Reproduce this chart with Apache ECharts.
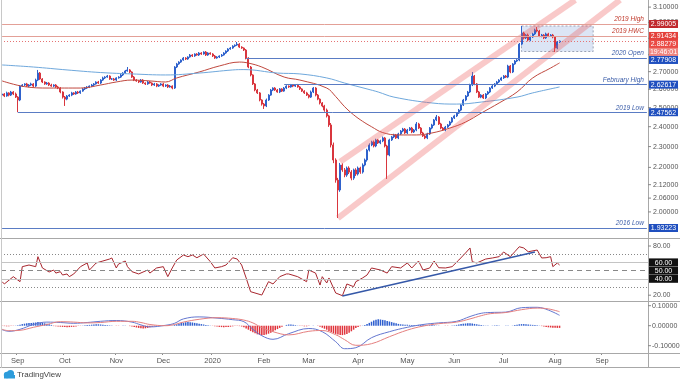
<!DOCTYPE html>
<html><head><meta charset="utf-8">
<script src="https://cdn.jsdelivr.net/npm/echarts@6.0.0/dist/echarts.min.js"></script>
<style>html,body{margin:0;padding:0;background:#fff;}#c{width:680px;height:380px;}</style>
</head><body><div id="c"></div>
<script>
// ================= DATA =================
const firstOpen = 2.568;
const closes = [
2.574,2.563,2.580,2.568,2.585,2.574,2.557,2.541,2.618,2.624,
2.630,2.618,2.624,2.630,2.618,2.652,2.692,2.658,2.641,2.630,
2.635,2.624,2.618,2.624,2.613,2.607,2.585,2.557,2.546,2.563,
2.568,2.580,2.574,2.585,2.580,2.590,2.602,2.607,2.613,2.618,
2.624,2.630,2.641,2.635,2.652,2.664,2.669,2.675,2.658,2.658,
2.652,2.664,2.669,2.681,2.692,2.704,2.710,2.698,2.669,2.652,
2.647,2.641,2.652,2.635,2.630,2.641,2.635,2.624,2.630,2.618,
2.624,2.630,2.618,2.624,2.613,2.618,2.607,2.727,2.745,2.756,
2.768,2.780,2.774,2.786,2.798,2.792,2.804,2.798,2.810,2.804,
2.816,2.798,2.810,2.804,2.792,2.780,2.786,2.792,2.798,2.810,
2.822,2.834,2.840,2.852,2.858,2.864,2.846,2.840,2.828,2.780,
2.727,2.681,2.630,2.596,2.580,2.541,2.519,2.509,2.541,2.568,
2.596,2.607,2.596,2.585,2.602,2.590,2.607,2.618,2.613,2.624,
2.618,2.624,2.613,2.602,2.590,2.580,2.568,2.557,2.585,2.607,
2.568,2.546,2.525,2.509,2.487,2.456,2.409,2.308,2.235,2.141,
2.096,2.211,2.188,2.164,2.197,2.178,2.150,2.188,2.169,2.197,
2.178,2.211,2.235,2.283,2.308,2.323,2.303,2.333,2.318,2.328,
2.343,2.303,2.259,2.333,2.348,2.358,2.343,2.363,2.378,2.388,
2.368,2.383,2.393,2.373,2.383,2.414,2.393,2.368,2.353,2.343,
2.363,2.393,2.409,2.435,2.450,2.414,2.393,2.383,2.398,2.409,
2.424,2.445,2.456,2.471,2.487,2.514,2.541,2.563,2.585,2.624,
2.675,2.630,2.585,2.557,2.568,2.552,2.574,2.585,2.607,2.618,
2.630,2.641,2.652,2.664,2.675,2.669,2.733,2.698,2.745,2.762,
2.768,2.864,2.933,2.902,2.920,2.889,2.908,2.927,2.952,2.945,
2.914,2.920,2.902,2.927,2.914,2.920,2.908,2.840,2.877,2.88279];
// wick lengths beyond the body, in thousandths
const wickUp = [
6,5,7,4,6,5,8,5,6,5, 4,6,5,7,5,8,18,6,5,4, 6,5,7,4,5,6,5,4,6,5, 5,6,4,5,6,4,5,6,5,4,
6,5,4,6,5,7,5,6,4,5, 6,4,5,6,5,6,17,5,4,6, 5,4,6,5,4,6,5,4,6,5, 4,5,6,4,5,6,4,5,6,5,
4,6,5,4,6,5,4,5,6,5, 4,6,5,4,5,6,5,4,6,5, 4,5,6,5,4,13,6,5,4,6, 5,6,4,5,6,5,4,6,8,5,
6,4,5,6,5,4,6,5,4,6, 5,4,6,5,4,5,6,5,8,6, 5,6,4,5,6,8,6,10,12,8, 10,10,8,9,7,8,9,6,8,7,
6,8,7,6,8,6,7,6,5,6, 7,5,6,6,5,6,5,6,5,6, 5,6,5,6,5,10,6,5,6,5, 6,5,6,5,11,5,6,5,6,5,
6,5,6,5,6,5,6,5,6,7, 23,6,5,6,5,6,5,6,5,6, 5,6,5,6,5,6,7,6,5,6, 5,7,44,8,7,9,8,7,8,19,
8,7,6,8,7,6,7,5,6,4];
const wickDn = [
5,6,4,7,5,6,5,65,6,5, 6,5,7,5,6,5,6,5,6,5, 5,6,4,6,5,6,7,8,37,6, 5,6,5,4,6,5,4,6,5,6,
5,6,4,5,6,5,6,4,5,6, 5,6,4,5,6,5,4,6,5,6, 5,6,4,5,6,5,4,6,5,6, 5,4,6,5,6,4,7,5,6,5,
5,4,6,5,4,6,5,4,6,5, 4,6,5,4,6,5,4,6,5,4, 5,6,4,5,6,5,6,5,6,8, 7,8,6,7,6,7,8,16,6,5,
4,6,5,4,6,5,4,6,5,4, 6,5,4,6,5,6,5,7,5,6, 7,6,8,7,9,8,10,12,15,12, 122,8,9,10,8,9,10,8,9,7,
8,7,6,8,7,6,7,6,5,6, 6,7,113,6,5,6,5,6,5,6, 5,6,5,6,5,6,5,6,5,6, 6,5,6,5,6,5,6,5,6,5,
5,6,5,6,5,6,5,6,5,6, 6,7,6,5,6,5,6,5,6,5, 6,5,6,5,6,5,6,7,6,5, 6,7,8,9,7,8,7,6,7,8,
7,8,7,6,7,6,8,24,7,6];
// moving averages [bar index, value]
const maRed = [[0,2.647],[10,2.615],[21,2.607],[35,2.607],[44,2.624],[51,2.641],[58,2.652],[66,2.647],[73,2.641],[78,2.664],[88,2.698],[97,2.733],[106,2.756],[110,2.750],[116,2.727],[126,2.669],[133,2.652],[145,2.607],[149,2.560],[153,2.505],[157,2.462],[161,2.428],[165,2.400],[170,2.370],[177,2.358],[185,2.358],[192,2.368],[200,2.393],[207,2.424],[214,2.471],[222,2.525],[230,2.585],[237,2.664],[245,2.721],[249,2.751]];
const maBlue = [[0,2.739],[14,2.727],[29,2.710],[44,2.695],[58,2.687],[73,2.681],[88,2.692],[103,2.710],[108,2.712],[123,2.692],[133,2.687],[145,2.664],[153,2.635],[163,2.602],[168,2.585],[175,2.557],[192,2.525],[203,2.519],[214,2.530],[230,2.557],[237,2.580],[249,2.613]];
// RSI [bar index, value]
const rsiPts = [[0,36.5],[1,33.7],[5,42.6],[8,36.5],[9,54.8],[12,56.8],[15,54.8],[16,67],[18,53.2],[21,48.3],[23,50.7],[24,47],[26,48.7],[27,44.6],[29,45.9],[30,42.6],[32,45.9],[35,54.8],[38,59.3],[39,50.7],[42,59.3],[45,61.7],[48,64.1],[49,65.4],[51,53.2],[52,58],[55,61.7],[56,54.8],[58,48.7],[61,45.9],[65,50.7],[66,47],[69,53.2],[72,54.8],[74,42.6],[76,53.2],[78,62.9],[81,69],[83,67],[85,69],[87,65.7],[90,70.2],[93,60.9],[95,53.2],[98,54.8],[100,56.8],[103,65.7],[105,64.1],[107,56.8],[109,41],[111,24.3],[116,20.2],[119,36.5],[121,33.7],[124,42.6],[127,45.9],[128,45.9],[132,42.6],[136,36.5],[137,50.7],[140,47],[142,32.4],[143,42.6],[145,34.9],[146,41],[149,22.7],[152,19.4],[154,33.7],[157,30.4],[158,36.5],[161,41],[163,44.6],[165,53.2],[169,50.7],[172,47],[174,54.8],[178,53.2],[181,59.3],[183,53.2],[186,61.7],[188,50.7],[191,53.2],[193,61.7],[195,53.5],[198,53.2],[201,54.8],[204,62.9],[207,71.5],[209,77.6],[210,60.9],[212,59.3],[216,64.1],[219,65.4],[222,67],[224,72.7],[227,67],[229,73],[231,79.1],[233,77.6],[235,73],[239,75.1],[241,65.4],[243,65.7],[245,67],[246,54.8],[248,59.3],[249,56.8]];
// MACD lines [bar index, value]
const macdPts = [[0,-0.020],[3,-0.028],[8,-0.018],[14,0.006],[20,0.018],[26,0.016],[32,0.012],[38,0.016],[44,0.022],[51,0.026],[58,0.018],[62,0.004],[66,-0.006],[73,0.002],[77,0.012],[81,0.034],[88,0.044],[96,0.038],[103,0.030],[108,0.020],[112,-0.018],[116,-0.050],[121,-0.068],[128,-0.040],[137,-0.014],[143,-0.030],[149,-0.080],[153,-0.115],[158,-0.110],[165,-0.060],[173,-0.030],[181,-0.008],[188,0.006],[195,0.014],[203,0.022],[209,0.046],[214,0.062],[218,0.066],[225,0.068],[232,0.090],[239,0.092],[244,0.078],[249,0.052]];
const signalPts = [[0,-0.018],[3,-0.025],[8,-0.023],[14,-0.008],[20,0.006],[26,0.020],[32,0.018],[38,0.014],[44,0.016],[51,0.022],[58,0.022],[62,0.016],[66,0.006],[73,0.000],[77,0.006],[81,0.018],[88,0.032],[96,0.040],[103,0.036],[108,0.028],[112,0.014],[116,-0.010],[121,-0.030],[128,-0.046],[137,-0.028],[143,-0.024],[149,-0.045],[153,-0.070],[158,-0.098],[165,-0.090],[173,-0.055],[181,-0.022],[188,-0.002],[195,0.010],[203,0.018],[209,0.034],[214,0.050],[218,0.060],[225,0.066],[232,0.080],[239,0.088],[244,0.084],[249,0.070]];
// MACD histogram, thousandths, one per bar
const hist = [
-2,-2,-3,-3,-2,-1,
1,2,5,8,10,12,13,14,15,16,18,16,14,12,10,7,4,
-2,-3,-4,-5,-6,-7,-8,-7,-6,-5,-4,-2,-1,
1,2,3,4,5,6,7,7,6,5,4,3,2,
1,0,-1,-1,0,1,1,0,
-2,-4,-6,-9,-11,-13,-14,-13,-11,-8,
-5,-3,-1,0,1,0,-1,-1,0,1,
4,7,10,13,15,17,18,17,16,14,12,10,8,
6,4,2,1,
-1,-3,-4,-6,-7,-8,-7,-6,-5,-3,
-2,-1,-2,-4,
-8,-14,-20,-27,-33,-38,-43,-46,-48,-47,-44,-40,-35,-29,-23,-17,-11,
-5,0,4,6,6,5,3,1,
-1,-2,-3,-3,-2,0,1,0,-2,
-5,-10,-15,-20,-26,-32,-37,-41,-44,-46,-47,-45,-41,-35,-28,-20,
-12,-6,-2,1,4,
8,14,20,26,30,32,31,29,27,24,21,18,15,12,9,7,
6,5,5,4,4,3,3,4,4,3,2,2,3,3,2,1,1,0,
0,-1,-1,0,1,
2,4,6,8,10,11,12,12,11,9,7,5,3,
2,1,1,0,1,2,2,1,0,0,1,1,0,1,
3,5,7,8,8,7,6,5,4,3,2,1,
-2,-4,-6,-8,-9,-10,-10,-11,-11];
// horizontal levels
const levelNames  = ['2019 High','2019 HWC','2020 Open','February High','2019 Low','2016 Low'];
const levelValues = [2.99005, 2.91434, 2.77908, 2.62617, 2.47562, 1.93223];
const levelStart  = [0, 0, 109, 126, 7, 0];
const lastPrice = 2.88279;
const countdown = '19:46:01';
const priceTicks = [3.1, 3.0, 2.9, 2.8, 2.7, 2.6, 2.5, 2.4, 2.3, 2.2, 2.12, 2.06, 2.0];
const rsiTickVals = [80, 20];
const rsiLevelVals = [60, 50, 40];
const macdTicks = [0.1, 0, -0.1];
// drawings
const channelUpper = [[151, 2.227], [256, 3.1475]];
const channelLower = [[150, 1.974], [276, 3.1475]];
const rangeBox = [[232, 2.977], [264, 2.819]];
const rsiTrend = [[152, 19.0], [238, 72.7]];
const monthNames = ['Jan','Feb','Mar','Apr','May','Jun','Jul','Aug','Sep','Oct','Nov','Dec'];

// ================= BUILD =================
const SLOTS = 289;
const dates = [], monthLabel = [];
{
  let t = Date.UTC(2019, 7, 22), prevM = -1;
  while (dates.length < SLOTS) {
    const d = new Date(t); const wd = d.getUTCDay();
    if (wd !== 0 && wd !== 6) {
      const m = d.getUTCMonth();
      dates.push(d.toISOString().slice(0, 10));
      monthLabel.push(prevM !== -1 && m !== prevM ? (m === 0 ? String(d.getUTCFullYear()) : monthNames[m]) : '');
      prevM = m;
    }
    t += 86400000;
  }
}
const candles = closes.map((c, i) => {
  const o = i ? closes[i - 1] : firstOpen;
  return [o, c, Math.min(o, c) - wickDn[i] / 1000, Math.max(o, c) + wickUp[i] / 1000];
});
const histData = hist.map(v => ({ value: v / 1000, itemStyle: { color: v >= 0 ? '#2f5fcf' : '#e0343c' } }));

const FONT = '"Liberation Sans", Arial, sans-serif';
const UP = '#2f62cc', DOWN = '#d9363e';
const redLvl = '#e3a097', blueLvl = '#5a7cc4';
const lvlColor = [redLvl, redLvl, blueLvl, blueLvl, blueLvl, blueLvl];
const lvlText = ['#c0392b', '#c0392b', '#3a5ca8', '#3a5ca8', '#3a5ca8', '#3a5ca8'];

const lvlMarks = levelNames.map((n, k) => {
  const ls = { color: lvlColor[k], width: 1, type: 'solid' };
  const lb = { show: true, position: 'insideEndTop', formatter: n, color: lvlText[k], fontSize: 6.5, fontStyle: 'italic', fontFamily: FONT, distance: [3, 1] };
  return [{ coord: [levelStart[k], levelValues[k]], lineStyle: ls, label: lb }, { coord: [SLOTS - 1, levelValues[k]], lineStyle: ls, label: lb }];
});
const chanStyle = { color: 'rgba(238,90,90,0.33)', width: 6, type: 'solid' };
const chanMarks = [channelUpper, channelLower].map(l => [
  { coord: l[0], lineStyle: chanStyle, label: { show: false } },
  { coord: l[1], lineStyle: chanStyle, label: { show: false } }]);
const lastMark = { yAxis: lastPrice, lineStyle: { color: '#e57373', width: 1, type: [1, 2] }, label: { show: false } };

const chart = echarts.init(document.getElementById('c'), null, { renderer: 'canvas', width: 680, height: 380 });
const xAx = k => ({
  type: 'category', gridIndex: k, data: dates, boundaryGap: true, position: 'bottom',
  axisLine: { show: false, onZero: false }, splitLine: { show: false },
  axisTick: { show: k === 2, interval: i => monthLabel[i] !== '', length: 2, inside: false, lineStyle: { color: '#888' } },
  axisLabel: { show: k === 2, interval: i => monthLabel[i] !== '', formatter: (v, i) => monthLabel[i], color: '#555', fontSize: 7.5, fontFamily: FONT, margin: 4 }
});
chart.setOption({
  animation: false,
  backgroundColor: '#ffffff',
  grid: [
    { left: 1, top: 0, width: 647, height: 238 },
    { left: 1, top: 238, width: 647, height: 63 },
    { left: 1, top: 301, width: 647, height: 52 }
  ],
  xAxis: [xAx(0), xAx(1), xAx(2)],
  yAxis: [
    { type: 'log', logBase: 10, gridIndex: 0, min: 1.8914, max: 3.1475, show: false, splitLine: { show: false } },
    { type: 'value', gridIndex: 1, min: 12.93, max: 89.76, show: false, splitLine: { show: false } },
    { type: 'value', gridIndex: 2, min: -0.1365, max: 0.1235, show: false, splitLine: { show: false } }
  ],
  series: [
    {
      type: 'candlestick', xAxisIndex: 0, yAxisIndex: 0, data: candles, barWidth: 1.5,
      itemStyle: { color: UP, color0: DOWN, borderColor: UP, borderColor0: DOWN, borderWidth: 1 },
      markLine: { silent: true, symbol: 'none', animation: false, data: [...chanMarks, ...lvlMarks, lastMark] },
      markArea: { silent: true, data: [[
        { coord: rangeBox[0], itemStyle: { color: 'rgba(178,198,232,0.45)', borderColor: '#9aa3b5', borderWidth: 1, borderType: [2, 2] } },
        { coord: rangeBox[1] }]] }
    },
    { type: 'line', xAxisIndex: 0, yAxisIndex: 0, data: maRed, smooth: 0.4, showSymbol: false, lineStyle: { color: '#c0483e', width: 1 } },
    { type: 'line', xAxisIndex: 0, yAxisIndex: 0, data: maBlue, smooth: 0.4, showSymbol: false, lineStyle: { color: '#6fa8dc', width: 1 } },
    {
      type: 'line', xAxisIndex: 1, yAxisIndex: 1, data: rsiPts, showSymbol: false, lineStyle: { color: '#a8262e', width: 1 },
      markLine: { silent: true, symbol: 'none', animation: false, label: { show: false }, data: [
        { yAxis: 70, lineStyle: { color: '#888', width: 1, type: [1, 2] } },
        { yAxis: 60, lineStyle: { color: '#c4c4c4', width: 1, type: 'solid' } },
        { yAxis: 50, lineStyle: { color: '#888', width: 1, type: [5, 4] } },
        { yAxis: 40, lineStyle: { color: '#c4c4c4', width: 1, type: 'solid' } },
        { yAxis: 30, lineStyle: { color: '#888', width: 1, type: [1, 2] } },
        [{ coord: rsiTrend[0], lineStyle: { color: '#3558a8', width: 1.6, type: 'solid' } },
         { coord: rsiTrend[1], lineStyle: { color: '#3558a8', width: 1.6, type: 'solid' } }]
      ] }
    },
    { type: 'bar', xAxisIndex: 2, yAxisIndex: 2, data: histData, barWidth: 1.5 },
    { type: 'line', xAxisIndex: 2, yAxisIndex: 2, data: macdPts, smooth: 0.4, showSymbol: false, lineStyle: { color: '#6477d0', width: 1 } },
    { type: 'line', xAxisIndex: 2, yAxisIndex: 2, data: signalPts, smooth: 0.4, showSymbol: false, lineStyle: { color: '#e57f7f', width: 1 } }
  ]
});

// ---------- right-hand scale, boxes and frame (positions from the library's axes) ----------
const toY = (axis, v) => chart.convertToPixel({ yAxisIndex: axis }, v);
const g = [];
const ln = (x1, y1, x2, y2, c, z) => g.push({ type: 'line', silent: true, z: z || 50, shape: { x1, y1, x2, y2 }, style: { stroke: c, lineWidth: 1 } });
const txt = (s, x, y, c, z) => g.push({ type: 'text', silent: true, z: z || 60, style: { text: s, x, y, fill: c, fontSize: 7, fontFamily: FONT, align: 'left', verticalAlign: 'middle' } });
const box = (s, y, bg, z) => {
  g.push({ type: 'rect', silent: true, z: z, shape: { x: 649, y: y - 4, width: 29, height: 8 }, style: { fill: bg } });
  g.push({ type: 'text', silent: true, z: z + 1, style: { text: s, x: 663.5, y: y + 0.5, fill: '#fff', fontSize: 7, fontFamily: FONT, align: 'center', verticalAlign: 'middle' } });
};
// frame
ln(0, 238.5, 680, 238.5, '#a8a8a8'); ln(0, 301.5, 680, 301.5, '#a8a8a8');
ln(0, 353.5, 680, 353.5, '#a8a8a8'); ln(0, 367.5, 680, 367.5, '#a8a8a8');
ln(648.5, 0, 648.5, 368, '#a8a8a8'); ln(1.5, 0, 1.5, 368, '#c8c8c8');
// price ticks
priceTicks.forEach(v => { const y = toY(0, v); ln(648, y, 651, y, '#888', 55); txt(v.toFixed(5), 653, y, '#555', 56); });
// price boxes with TradingView-like stacking
const bxVals = [levelValues[0], levelValues[1], lastPrice, null, levelValues[2], levelValues[3], levelValues[4], levelValues[5]];
const bxText = [levelValues[0].toFixed(5), levelValues[1].toFixed(5), lastPrice.toFixed(5), countdown, levelValues[2].toFixed(5), levelValues[3].toFixed(5), levelValues[4].toFixed(5), levelValues[5].toFixed(5)];
const bxCol = ['#c0282d', '#e4403a', '#ea4b45', '#f0857f', '#1f4fbf', '#1f4fbf', '#1f4fbf', '#1f4fbf'];
let prevY = -99;
bxVals.forEach((v, k) => {
  const y = v === null ? prevY + 8 : Math.max(toY(0, v), prevY + 8);
  box(bxText[k], y, bxCol[k], 80 + k * 2);
  prevY = y;
});
// RSI scale
rsiTickVals.forEach(v => { const y = toY(1, v); ln(648, y, 651, y, '#888', 55); txt(v.toFixed(2), 653, y, '#555', 56); });
rsiLevelVals.forEach((v, k) => box(v.toFixed(2), toY(1, v), '#111', 90 + k * 2));
// MACD scale
macdTicks.forEach(v => { const y = toY(2, v); ln(648, y, 651, y, '#888', 55); txt(v.toFixed(5), 652, y, '#555', 56); });
// TradingView mark
g.push({ type: 'circle', silent: true, z: 60, shape: { cx: 7, cy: 375, r: 3.2 }, style: { fill: '#2d9cdb' } });
g.push({ type: 'circle', silent: true, z: 60, shape: { cx: 10.5, cy: 373.5, r: 3.6 }, style: { fill: '#2d9cdb' } });
g.push({ type: 'rect', silent: true, z: 60, shape: { x: 4, y: 375, width: 11, height: 3.5 }, style: { fill: '#2d9cdb' } });
g.push({ type: 'text', silent: true, z: 60, style: { text: 'TradingView', x: 17, y: 375, fill: '#444', fontSize: 8, fontFamily: FONT, align: 'left', verticalAlign: 'middle' } });
chart.setOption({ graphic: g });
</script>
</body></html>
